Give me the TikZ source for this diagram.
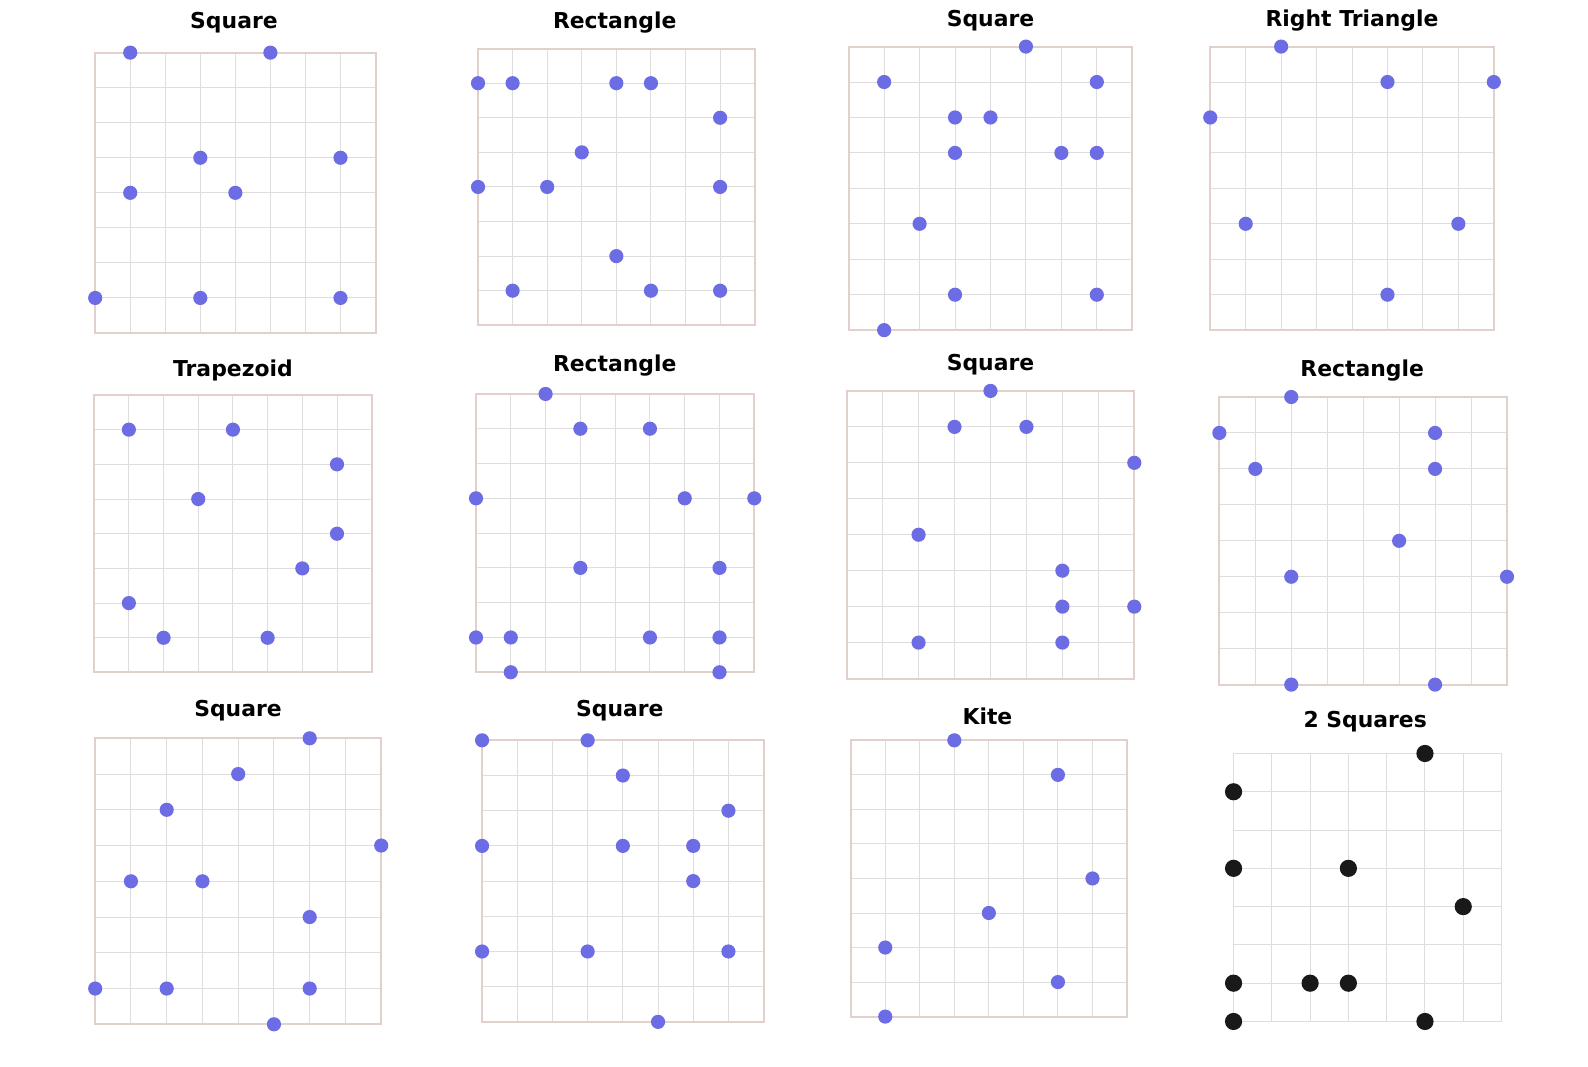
\documentclass[tikz,border=0pt]{standalone}
\usepackage{fontspec}
\setmainfont{DejaVu Sans}
\usepackage{xcolor}
\usepackage{tikz}
\usetikzlibrary{positioning}

\definecolor{dotblue}{RGB}{108,108,228}
\definecolor{dotblack}{RGB}{25,25,25}
\definecolor{gridgray}{RGB}{222,222,222}
\definecolor{framepink}{RGB}{226,208,204}

\tikzset{
  gridline/.style={draw=gridgray, line width=0.55pt},
  frame/.style={draw=framepink, line width=1.1pt},
  bluedot/.style={fill=dotblue},
  blackdot/.style={fill=dotblack},
  paneltitle/.style={font=\fontsize{12.3}{14}\selectfont\bfseries, inner sep=0pt}
}

% left, top, cell size, cells, frame style, dot style, dot radius, dots
\newcommand{\shapepanel}[8]{%
  \begin{scope}[shift={(#1,#2)}]
    \foreach \k in {0,...,#4} {
      \draw[gridline] (\k*#3,0) -- (\k*#3,#4*#3);
      \draw[gridline] (0,\k*#3) -- (#4*#3,\k*#3);
    }
    \draw[#5] (0,0) rectangle (#4*#3,#4*#3);
    \foreach \cx/\ry in {#8}
      \fill[#6] (\cx*#3,\ry*#3) circle[radius=#7];
  \end{scope}}

\begin{document}
\begin{tikzpicture}[x=0.02cm, y=-0.02cm]
  \useasboundingbox (0,0) rectangle (1568,1053);

  % top row
  \node[paneltitle] (t1) at (231,22) {Square};
  \shapepanel{94}{52}{34.6}{8}{frame}{bluedot}{0.14cm}{1/0,5/0,3/3,7/3,1/4,4/4,0/7,3/7,7/7}
  \node[paneltitle] (t2) at (607,22) {Rectangle};
  \shapepanel{472}{48}{34.15}{8}{frame}{bluedot}{0.14cm}{0/1,1/1,4/1,5/1,7/2,3/3,0/4,2/4,7/4,4/6,1/7,5/7,7/7}
  \node[paneltitle] (t3) at (978,20) {Square};
  \shapepanel{838}{46}{35}{8}{frame}{bluedot}{0.14cm}{5/0,1/1,7/1,3/2,4/2,3/3,6/3,7/3,2/5,3/7,7/7,1/8}
  \node[paneltitle] (t4) at (1335,20) {Right Triangle};
  \shapepanel{1195}{46}{35}{8}{frame}{bluedot}{0.14cm}{2/0,5/1,8/1,0/2,1/5,7/5,5/7}

  % middle row
  \node[paneltitle] (t5) at (230,366) {Trapezoid};
  \shapepanel{93}{390}{34.25}{8}{frame}{bluedot}{0.14cm}{1/1,4/1,7/2,3/3,7/4,6/5,1/6,2/7,5/7}
  \node[paneltitle] (t6) at (607,361) {Rectangle};
  \shapepanel{470}{389}{34.35}{8}{frame}{bluedot}{0.14cm}{2/0,3/1,5/1,0/3,6/3,8/3,3/5,7/5,0/7,1/7,5/7,7/7,1/8,7/8}
  \node[paneltitle] (t7) at (978,360) {Square};
  \shapepanel{836}{386}{35.5}{8}{frame}{bluedot}{0.14cm}{4/0,3/1,5/1,8/2,2/4,6/5,6/6,8/6,2/7,6/7}
  \node[paneltitle] (t8) at (1345,366) {Rectangle};
  \shapepanel{1204}{392}{35.5}{8}{frame}{bluedot}{0.14cm}{2/0,0/1,6/1,1/2,6/2,5/4,2/5,8/5,2/8,6/8}

  % bottom row
  \node[paneltitle] (t9) at (235,702) {Square};
  \shapepanel{94}{729}{35.3}{8}{frame}{bluedot}{0.14cm}{6/0,4/1,2/2,8/3,1/4,3/4,6/5,0/7,2/7,6/7,5/8}
  \node[paneltitle] (t10) at (612,702) {Square};
  \shapepanel{476}{731}{34.75}{8}{frame}{bluedot}{0.14cm}{0/0,3/0,4/1,7/2,0/3,4/3,6/3,6/4,0/6,3/6,7/6,5/8}
  \node[paneltitle] (t11) at (975,707) {Kite};
  \shapepanel{840}{731}{34.1}{8}{frame}{bluedot}{0.14cm}{3/0,6/1,7/4,4/5,1/6,6/7,1/8}
  \node[paneltitle] (t12) at (1348,713) {2 Squares};
  \shapepanel{1218}{744}{37.8}{7}{gridline}{blackdot}{0.17cm}{5/0,0/1,0/3,3/3,6/4,0/6,2/6,3/6,0/7,5/7}
\end{tikzpicture}
\end{document}
